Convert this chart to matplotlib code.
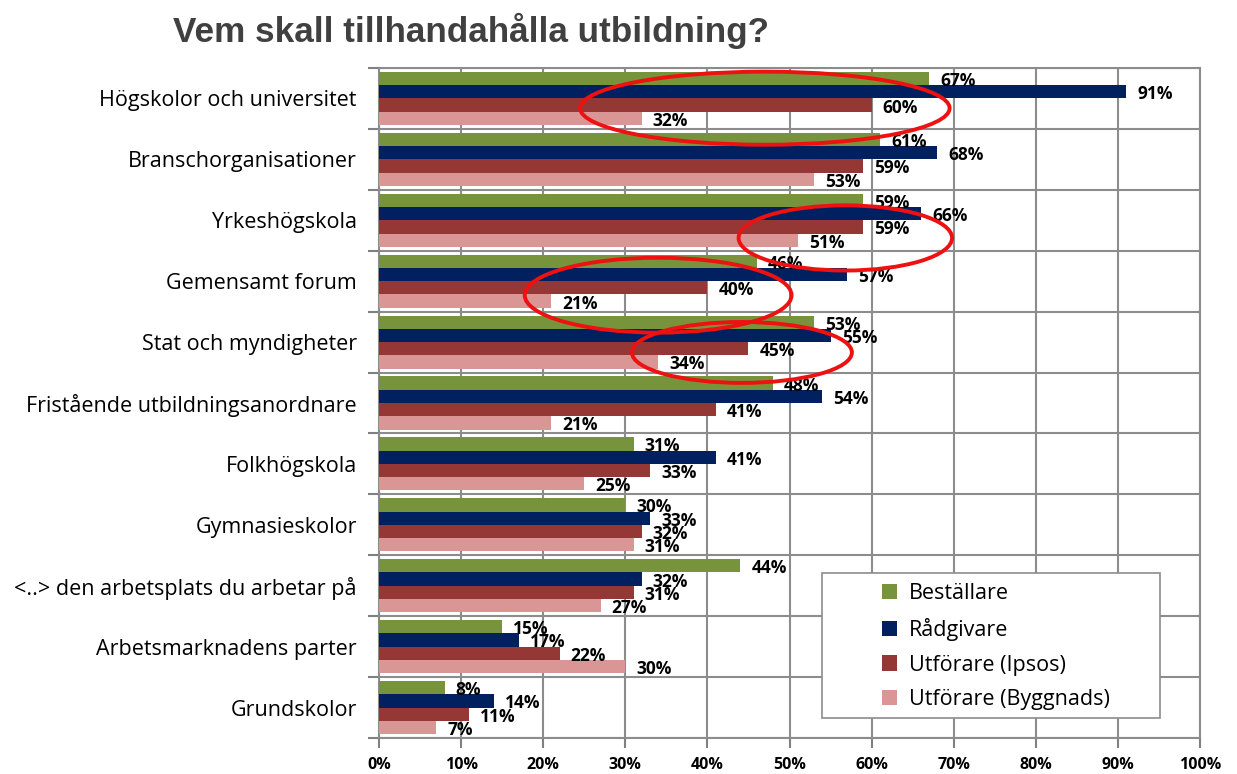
import matplotlib
matplotlib.use("Agg")
import matplotlib.pyplot as plt
from matplotlib.patches import Ellipse, Rectangle
from matplotlib.ticker import MultipleLocator, FuncFormatter
import numpy as np

categories = [
    "Högskolor och universitet",
    "Branschorganisationer",
    "Yrkeshögskola",
    "Gemensamt forum",
    "Stat och myndigheter",
    "Fristående utbildningsanordnare",
    "Folkhögskola",
    "Gymnasieskolor",
    "<..> den arbetsplats du arbetar på",
    "Arbetsmarknadens parter",
    "Grundskolor",
]
series_names = ["Beställare", "Rådgivare", "Utförare (Ipsos)", "Utförare (Byggnads)"]
bestallare = [67, 61, 59, 46, 53, 48, 31, 30, 44, 15, 8]
radgivare = [91, 68, 66, 57, 55, 54, 41, 33, 32, 17, 14]
utforare_ipsos = [60, 59, 59, 40, 45, 41, 33, 32, 31, 22, 11]
utforare_byggnads = [32, 53, 51, 21, 34, 21, 25, 31, 27, 30, 7]
title = "Vem skall tillhandahålla utbildning?"

colors = ["#77933C", "#002060", "#953735", "#D99694"]
series = [bestallare, radgivare, utforare_ipsos, utforare_byggnads]

W, H = 1237, 774
fig = plt.figure(figsize=(W / 100, H / 100), dpi=100)
ax = fig.add_axes([379 / W, 36 / H, (1200 - 379) / W, (738 - 68) / H])

n = len(categories)
y = np.arange(n)
bh = 0.218
offsets = [-1.5 * bh, -0.5 * bh, 0.5 * bh, 1.5 * bh]

handles = []
for vals, col, off, name in zip(series, colors, offsets, series_names):
    bars = ax.barh(y + off, vals, height=bh, color=col, label=name, zorder=3)
    handles.append(bars)
    for b, v in zip(bars, vals):
        ax.annotate(f"{v}%", xy=(v, b.get_y() + b.get_height() / 2 + 0.04),
                    xytext=(8, 0), textcoords="offset points",
                    ha="left", va="center", fontsize=12.5, fontweight="bold",
                    family="Open Sans", color="black", zorder=5)

ax.set_xlim(0, 100)
ax.set_ylim(n - 0.5, -0.5)
ax.xaxis.set_major_locator(MultipleLocator(10))
ax.xaxis.set_major_formatter(FuncFormatter(lambda v, p: f"{int(round(v))}%"))
ax.set_yticks(y)
ax.set_yticklabels(categories, family="Open Sans", fontsize=15.5)
ax.set_yticks(np.arange(n + 1) - 0.5, minor=True)
ax.tick_params(axis="y", which="major", length=0, pad=16)
ax.tick_params(axis="y", which="minor", length=8, color="#808080", width=1.5)
ax.tick_params(axis="x", which="major", length=7, color="#808080", width=1.5, pad=7)
for lbl in ax.get_xticklabels():
    lbl.set_family("Open Sans")
    lbl.set_fontsize(11.5)
    lbl.set_fontweight("bold")

ax.grid(axis="x", which="major", color="#8C8C8C", linewidth=1.5, zorder=0)
ax.grid(axis="y", which="minor", color="#8C8C8C", linewidth=1.5, zorder=0)
ax.set_axisbelow(True)
for s in ax.spines.values():
    s.set_color("#8C8C8C")
    s.set_linewidth(1.5)

# legend box
box = Rectangle((822 / W, 1 - 718 / H), (1160 - 822) / W, (718 - 573) / H,
                transform=fig.transFigure, facecolor="white", edgecolor="#8C8C8C",
                linewidth=1.2, zorder=6)
fig.add_artist(box)
leg = fig.legend(handles=handles, labels=series_names, loc="upper left",
                 bbox_to_anchor=(868 / W, 1 - 569 / H),
                 prop={"family": "Open Sans", "size": 15.5}, frameon=False,
                 handlelength=0.7, handleheight=0.7, labelspacing=0.64,
                 handletextpad=0.55, borderpad=0.15)
leg.set_zorder(7)

# red annotation ellipses
ell = [(47, 0.16, 45, 1.2), (56.8, 2.29, 26, 1.07), (34, 3.23, 32.5, 1.23), (44.2, 4.17, 26.8, 1.0)]
for cx, cy, w, h in ell:
    ax.add_patch(Ellipse((cx, cy), w, h, fill=False, edgecolor="#EE1111", linewidth=2.8, zorder=8))

fig.text(173 / W, 1 - 31 / H, title, ha="left", va="center", fontsize=25.3,
         fontweight="bold", family="Liberation Sans", color="#404040")

fig.savefig("out.png", dpi=100, facecolor="white")
